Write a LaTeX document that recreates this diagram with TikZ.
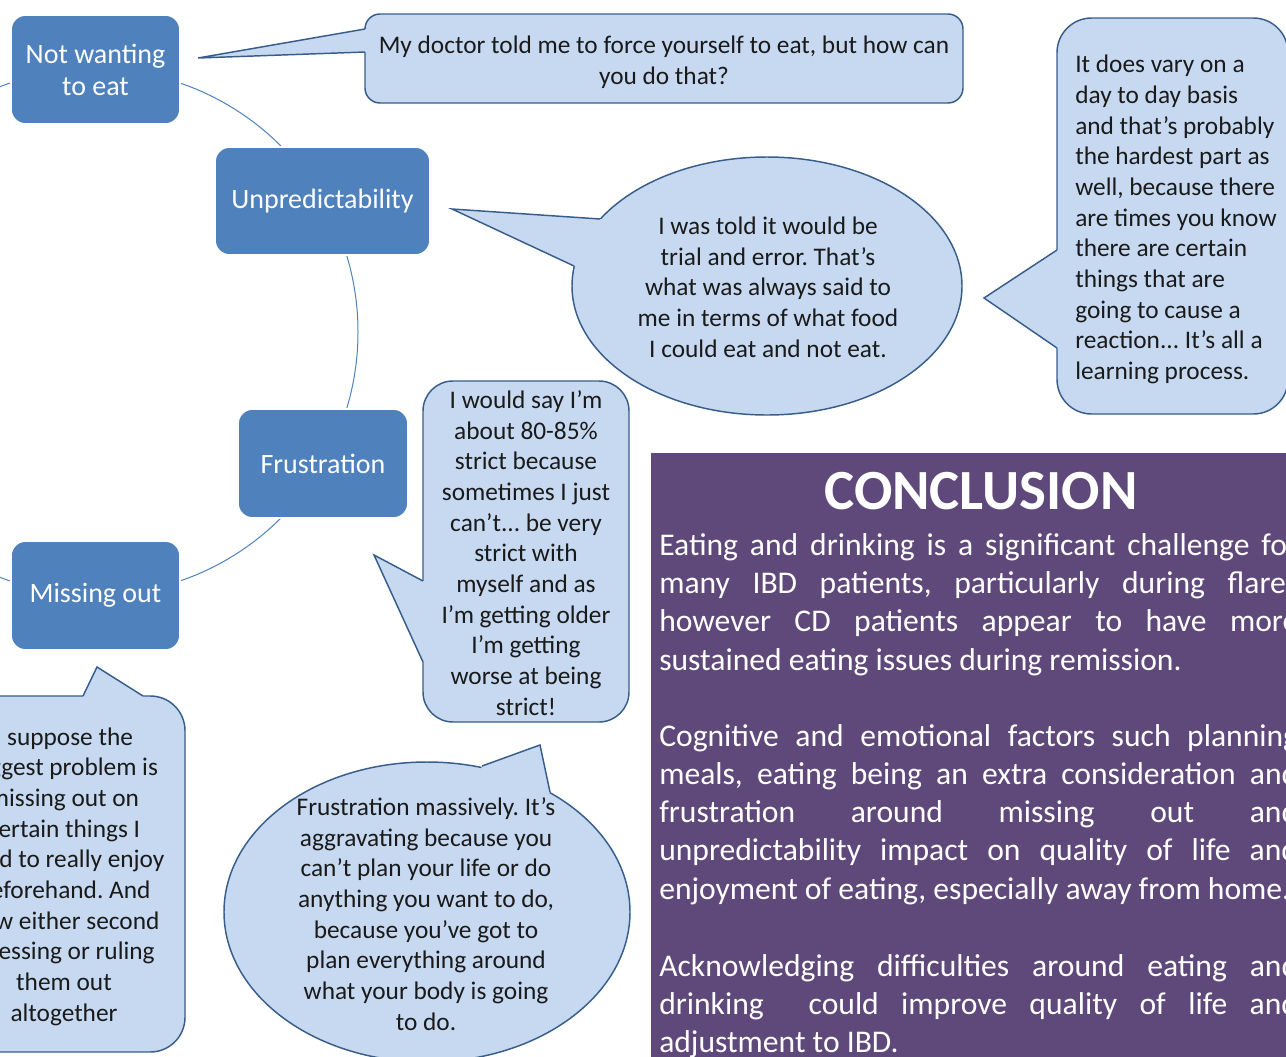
\documentclass[tikz,border=0pt]{standalone}
\usepackage{fontspec}
\setmainfont{Carlito}
\definecolor{boxblue}{HTML}{4F81BD}
\definecolor{bubfill}{HTML}{C6D9F1}
\definecolor{bubline}{HTML}{385D8A}
\definecolor{conclbg}{HTML}{5F497A}
\definecolor{qcol}{HTML}{1A1A1A}
\newcommand\qfnt{\fontsize{19pt}{23pt}\selectfont}
\newcommand\thfnt{\fontsize{21pt}{24pt}\selectfont}
\newcommand\cofnt{\fontsize{23.7pt}{28.65pt}\selectfont}
\newcommand\hdfnt{\fontsize{42.6pt}{48pt}\selectfont\bfseries}
\newlength\cw
\setlength\cw{479.25pt}
\newcommand\jl[1]{\leavevmode\hbox to\cw{\spaceskip=\fontdimen2\font plus 1fil\relax\xspaceskip=\spaceskip #1}}
\newcommand\nl[1]{\leavevmode\hbox{\spaceskip=0pt\xspaceskip=0pt #1}}
\tikzset{
  theme/.style={rectangle, rounded corners=11pt, fill=boxblue, draw=white, line width=1.2pt, text=white, font=\thfnt, align=center, inner sep=0pt},
  bub/.style={fill=bubfill, draw=bubline, line width=1.1pt},
  tailline/.style={draw=bubline, line width=1.1pt, line join=miter},
  qtext/.style={font=\qfnt, text=qcol, align=center, inner sep=0pt},
  ctext/.style={font=\cofnt, text=white, align=left, inner sep=0pt, text width=\cw, anchor=west},
}
\begin{document}
\frenchspacing
\begin{tikzpicture}[x=0.75pt,y=-0.75pt]
\useasboundingbox (0,0) rectangle (1286,1057);
\clip (0,0) rectangle (1286,1057);

% cycle circle
\draw[boxblue, line width=0.75pt] (95,332) circle [radius=263];

% theme boxes
\node[theme, minimum width=126.75pt, minimum height=81.75pt] (nwe) at (95.5,69.5) {Not wanting\\to eat};
\node[theme, minimum width=161.25pt, minimum height=81pt] (unp) at (322.5,201) {\raisebox{-1.5pt}{Unpredictability}};
\node[theme, minimum width=127.5pt, minimum height=81.75pt] (fru) at (323,463.5) {Frustration};
\node[theme, minimum width=126.75pt, minimum height=81.75pt] (mis) at (95.5,595.5) {\raisebox{-1.5pt}{Missing out}};

% bubble A (doctor)
\path[bub, rounded corners=11.25pt] (365,14) rectangle (963,103);
\fill[bubfill] (198,58) -- (365,29) -- (368,29) -- (368,52) -- (365,52) -- cycle;
\draw[tailline] (365,29) -- (198,58) -- (365,52);
\node[qtext] (qa) at (664,62.5) {My doctor told me to force yourself to eat, but how can\\you do that?};

% bubble B (trial and error)
\path[bub] (767,286) ellipse [x radius=195, y radius=129];
\fill[bubfill] (452,209) -- (600,219) -- (603,220) -- (577,266.3) -- (574,266) -- cycle;
\draw[tailline] (600,219) -- (452,209) -- (574,266);
\node[qtext] (qb) at (768,287) {I was told it would be\\trial and error. That’s\\what was always said to\\me in terms of what food\\I could eat and not eat.};

% bubble C (day to day)
\path[bub, rounded corners=26pt] (1057,18) rectangle (1288,414);
\fill[bubfill] (984,298) -- (1057,250) -- (1060,250) -- (1060,348) -- (1057,348) -- cycle;
\draw[tailline] (1057,250) -- (984,298) -- (1057,348);
\node[qtext, align=left, anchor=west] (qc) at (1075,219.5) {\nl{It does vary on a}\\\nl{day to day basis}\\\nl{and that’s probably}\\\nl{the hardest part as}\\\nl{well, because there}\\\nl{are times you know}\\\nl{there are certain}\\\nl{things that are}\\\nl{going to cause a}\\\nl{reaction... It’s all a}\\\nl{learning process.}};

% bubble D (80-85%)
\path[bub, rounded corners=22.5pt] (423,381) rectangle (629,722);
\fill[bubfill] (374,555) -- (423,581) -- (426,581) -- (426,662) -- (423,662) -- cycle;
\draw[tailline] (423,581) -- (374,555) -- (423,662);
\node[qtext] (qd) at (526,553) {I would say I’m\\about 80-85\%\\strict because\\sometimes I just\\can’t... be very\\strict with\\myself and as\\I’m getting older\\I’m getting\\worse at being\\strict!};

% bubble E (frustration massively)
\path[bub] (427,912) ellipse [x radius=203, y radius=150];
\fill[bubfill] (540,745) -- (482,766) -- (481,769) -- (548,794) -- (550,792) -- cycle;
\draw[tailline] (482,766) -- (540,745) -- (550,792);
\node[qtext] (qe) at (426,914) {Frustration massively. It’s\\aggravating because you\\can’t plan your life or do\\anything you want to do,\\because you’ve got to\\plan everything around\\what your body is going\\to do.};

% bubble F (missing out)
\path[bub, rounded corners=26pt] (-58,696) rectangle (185,1052);
\fill[bubfill] (97,667) -- (83,696) -- (83,699) -- (143,699) -- (143,696) -- cycle;
\draw[tailline] (83,696) -- (97,667) -- (143,696);
\node[qtext] (qf) at (64,876.5) {I suppose the\\biggest problem is\\missing out on\\certain things I\\used to really enjoy\\beforehand. And\\now either second\\guessing or ruling\\them out\\altogether};

% conclusion panel
\fill[conclbg] (651,453) rectangle (1330,1080);
\node[font=\hdfnt, text=white, inner sep=0pt] (hd) at (981,491) {CONCLUSION};
\node[ctext] (p1) at (659,604.5) {\jl{Eating and drinking is a significant challenge for}\\\jl{many IBD patients, particularly during flares}\\\jl{however CD patients appear to have more}\\\nl{sustained eating issues during remission.}};
\node[ctext] (p2) at (659,814.5) {\jl{Cognitive and emotional factors such planning}\\\jl{meals, eating being an extra consideration and}\\\jl{frustration around missing out and}\\\jl{unpredictability impact on quality of life and}\\\nl{enjoyment of eating, especially away from home.}};
\node[ctext] (p3) at (659,1006) {\jl{Acknowledging difficulties around eating and}\\\jl{drinking\ \ could improve quality of life and}\\\nl{adjustment to IBD.}};
\end{tikzpicture}
\end{document}
